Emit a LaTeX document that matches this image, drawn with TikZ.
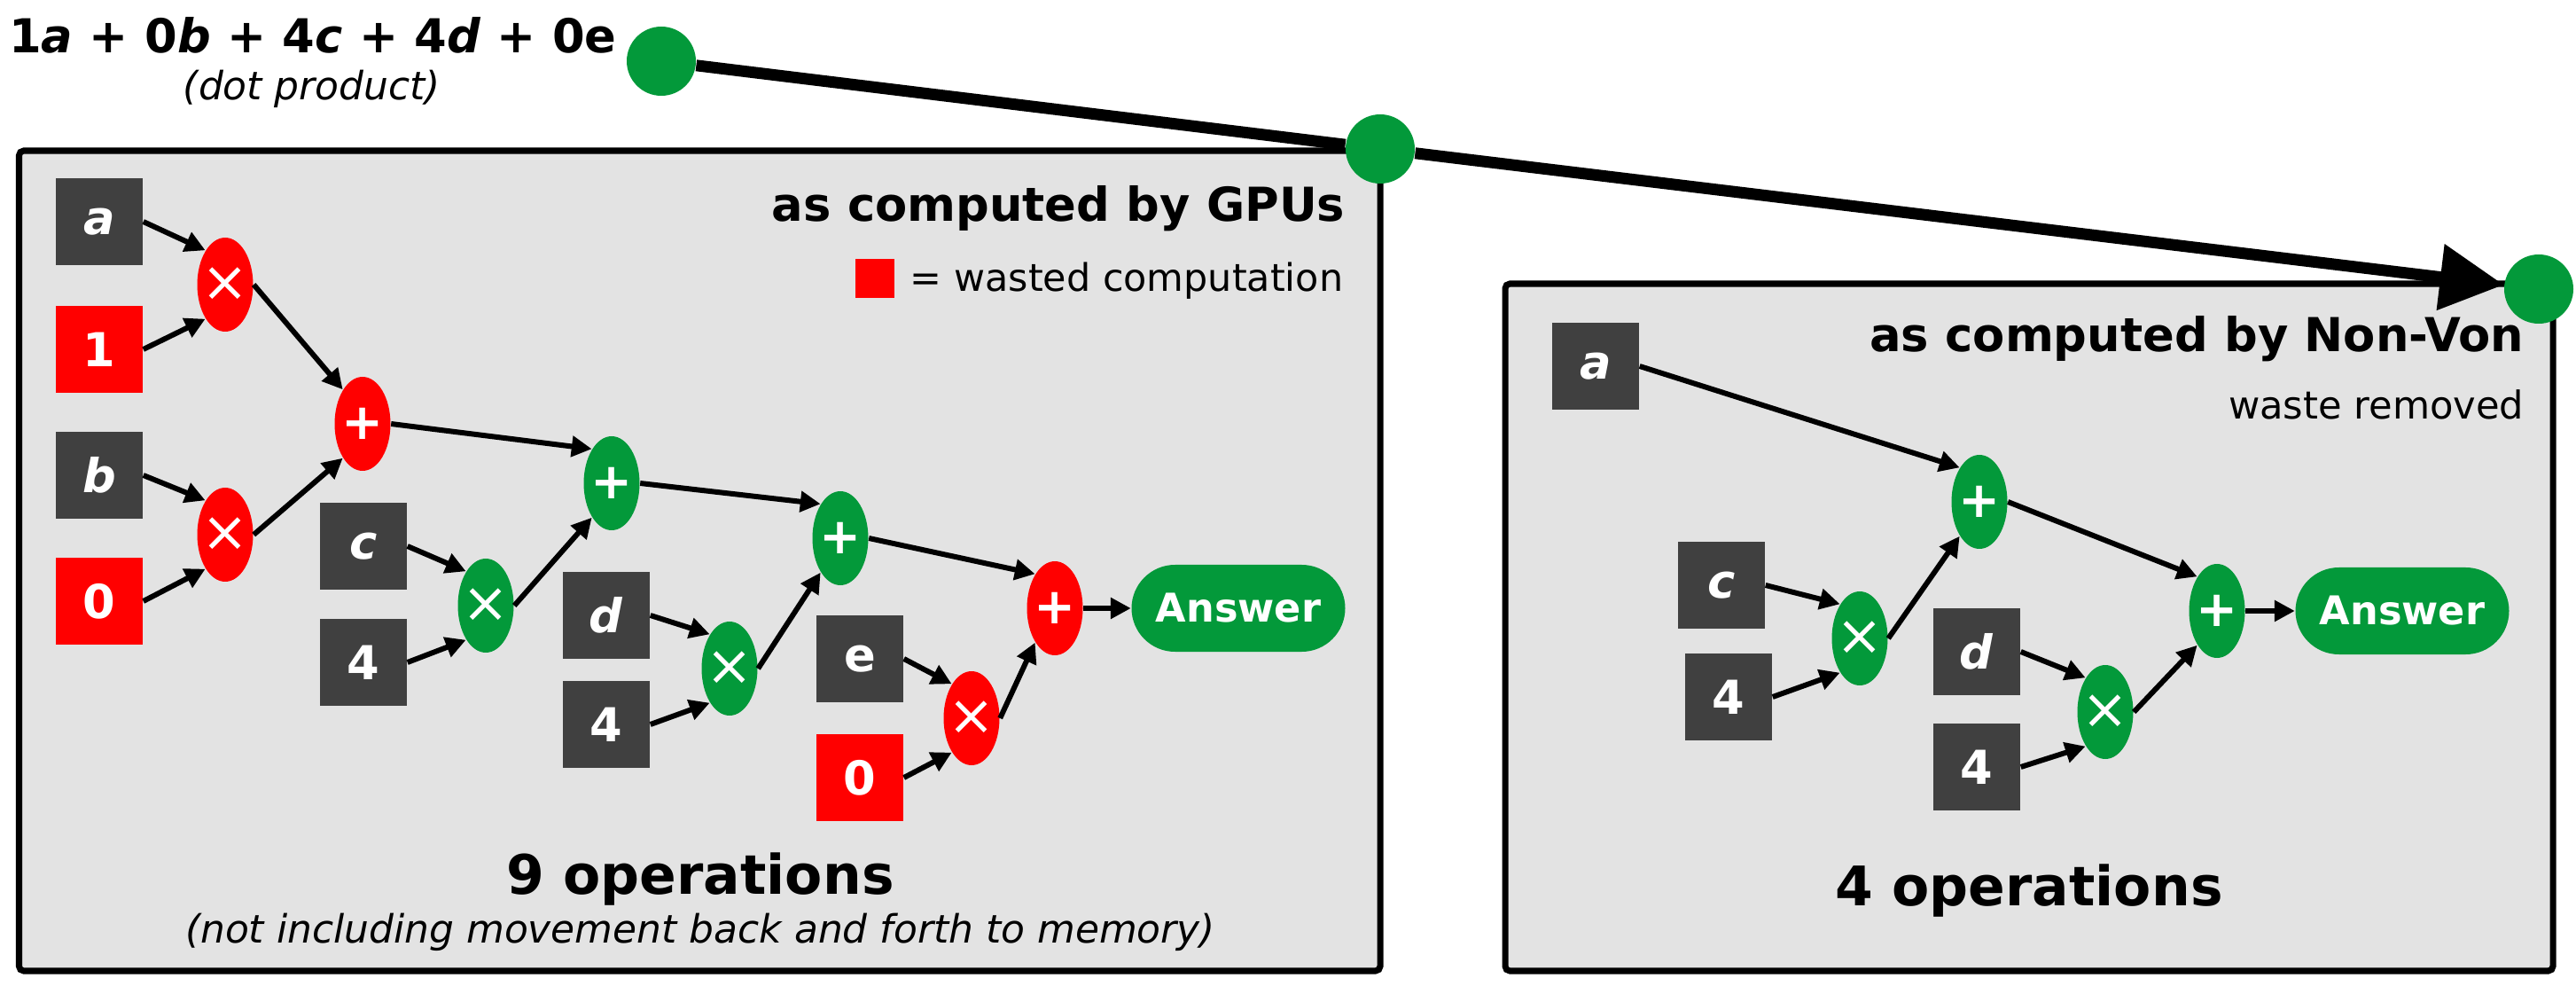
\documentclass[tikz,border=0pt]{standalone}
\usepackage{fontspec}
\setmainfont{DejaVu Sans}
\usepackage{tikz}
\usetikzlibrary{arrows.meta,positioning,shapes.geometric}
\definecolor{opgreen}{HTML}{03993A}
\definecolor{wastered}{HTML}{FF0000}
\definecolor{valgray}{HTML}{404040}
\definecolor{panelgray}{HTML}{E3E3E3}
\newcommand{\opmul}{\makebox[0pt]{\fontsize{18}{18}\selectfont ×}}
\newcommand{\opadd}{\makebox[0pt]{\fontsize{16}{16}\selectfont\bfseries +}}

\begin{document}
\begin{tikzpicture}[
    val/.style={rectangle,fill=valgray,text=white,minimum size=0.98cm,inner sep=0pt,font=\fontsize{15}{18}\selectfont\bfseries},
    valw/.style={val,fill=wastered},
    op/.style={ellipse,fill=opgreen,text=white,minimum width=0.63cm,minimum height=1.06cm,inner sep=0pt},
    opw/.style={op,fill=wastered},
    ans/.style={fill=opgreen,text=white,rounded corners=0.49cm,minimum width=2.41cm,minimum height=0.98cm,inner sep=0pt,font=\fontsize{12.7}{15}\selectfont\bfseries},
    link/.style={-{Triangle[length=6.5pt,width=6.5pt]},line width=1.7pt},
    panel/.style={fill=panelgray,draw=black,line width=2pt,rounded corners=1.5pt},
    waypt/.style={circle,fill=opgreen,minimum size=0.78cm,inner sep=0pt}
  ]
  \useasboundingbox (0,0) rectangle (29.06,-11.12);
  % los dos paneles
  \draw[panel] (0.215,-1.70) rectangle (15.57,-10.95);
  \draw[panel] (16.98,-3.20) rectangle (28.80,-10.95);

  % producto escalar y el camino
  \node[anchor=base,font=\fontsize{15}{18}\selectfont\bfseries] (formula) at (3.53,-0.60) {1\textit{a} + 0\textit{b} + 4\textit{c} + 4\textit{d} + 0e};
  \node[anchor=base,font=\fontsize{12.5}{15}\selectfont\itshape] (dotnote) at (3.52,-1.13) {(dot product)};
  \node[waypt] (w1) at (7.46,-0.69) {};
  \node[waypt] (w2) at (15.57,-1.68) {};
  \node[waypt] (w3) at (28.64,-3.26) {};
  \draw[line width=3.7pt] (w1) -- (w2);
  \draw[line width=3.7pt,-{Triangle[length=0.72cm,width=0.72cm]}] (w2) -- (w3);

  % GPUs
  \node[anchor=base east,inner sep=0pt,font=\fontsize{15}{18}\selectfont\bfseries] (gputitle) at (15.18,-2.50) {as computed by GPUs};
  \node[anchor=base east,inner sep=0pt,font=\fontsize{12.2}{15}\selectfont] (gpulegend) at (15.16,-3.29) {= wasted computation};
  \node[fill=wastered,minimum size=0.44cm,inner sep=0pt] (gpusq) at (9.87,-3.14) {};
  \node[val]  (ga)  at (1.12,-2.50) {\textit{a}};
  \node[valw] (g1)  at (1.12,-3.94) {1};
  \node[val]  (gb)  at (1.12,-5.36) {\textit{b}};
  \node[valw] (g0)  at (1.12,-6.78) {0};
  \node[opw]  (gmA) at (2.54,-3.21) {\opmul};
  \node[opw]  (gmB) at (2.54,-6.03) {\opmul};
  \node[opw]  (gsB) at (4.09,-4.78) {\opadd};
  \node[val]  (gc)  at (4.10,-6.16) {\textit{c}};
  \node[val]  (g4c) at (4.10,-7.47) {4};
  \node[op]   (gmC) at (5.48,-6.83) {\opmul};
  \node[op]   (gsC) at (6.90,-5.45) {\opadd};
  \node[val]  (gd)  at (6.84,-6.94) {\textit{d}};
  \node[val]  (g4d) at (6.84,-8.17) {4};
  \node[op]   (gmD) at (8.23,-7.54) {\opmul};
  \node[op]   (gsD) at (9.48,-6.07) {\opadd};
  \node[val]  (ge)  at (9.70,-7.43) {e};
  \node[valw] (g0e) at (9.70,-8.77) {0};
  \node[opw]  (gmE) at (10.96,-8.10) {\opmul};
  \node[opw]  (gsE) at (11.90,-6.86) {\opadd};
  \node[ans]  (gans) at (13.97,-6.86) {Answer};
  \foreach \s/\t in {ga/gmA,gb/gmB,gmA/gsB,gc/gmC,gsB/gsC,gd/gmD,gsC/gsD,ge/gmE,gsD/gsE}
    \draw[link] (\s.east) -- (\t.120);
  \foreach \s/\t in {g1/gmA,g0/gmB,gmB/gsB,g4c/gmC,gmC/gsC,g4d/gmD,gmD/gsD,g0e/gmE,gmE/gsE}
    \draw[link] (\s.east) -- (\t.240);
  \draw[link] (gsE) -- (gans);
  \node[anchor=base,font=\fontsize{17.5}{21}\selectfont\bfseries] (gpuops) at (7.90,-10.08) {9 operations};
  \node[anchor=base,font=\fontsize{12.5}{15}\selectfont\itshape] (gpunote) at (7.90,-10.63) {(not including movement back and forth to memory)};

  % Non-Von
  \node[anchor=base east,inner sep=0pt,font=\fontsize{15}{18}\selectfont\bfseries] (nvtitle) at (28.48,-3.97) {as computed by Non-Von};
  \node[anchor=base east,inner sep=0pt,font=\fontsize{12.3}{15}\selectfont] (nvnote) at (28.48,-4.73) {waste removed};
  \node[val] (na)  at (18.00,-4.13) {\textit{a}};
  \node[val] (nc)  at (19.42,-6.60) {\textit{c}};
  \node[val] (n4c) at (19.50,-7.86) {4};
  \node[op]  (nmC) at (20.98,-7.20) {\opmul};
  \node[op]  (nsA) at (22.33,-5.66) {\opadd};
  \node[val] (nd)  at (22.30,-7.35) {\textit{d}};
  \node[val] (n4d) at (22.30,-8.65) {4};
  \node[op]  (nmD) at (23.75,-8.03) {\opmul};
  \node[op]  (nsD) at (25.01,-6.89) {\opadd};
  \node[ans] (nans) at (27.10,-6.89) {Answer};
  \foreach \s/\t in {na/nsA,nc/nmC,nsA/nsD,nd/nmD}
    \draw[link] (\s.east) -- (\t.120);
  \foreach \s/\t in {n4c/nmC,nmC/nsA,n4d/nmD,nmD/nsD}
    \draw[link] (\s.east) -- (\t.240);
  \draw[link] (nsD) -- (nans);
  \node[anchor=base,font=\fontsize{17.5}{21}\selectfont\bfseries] (nvops) at (22.89,-10.21) {4 operations};
\end{tikzpicture}
\end{document}
